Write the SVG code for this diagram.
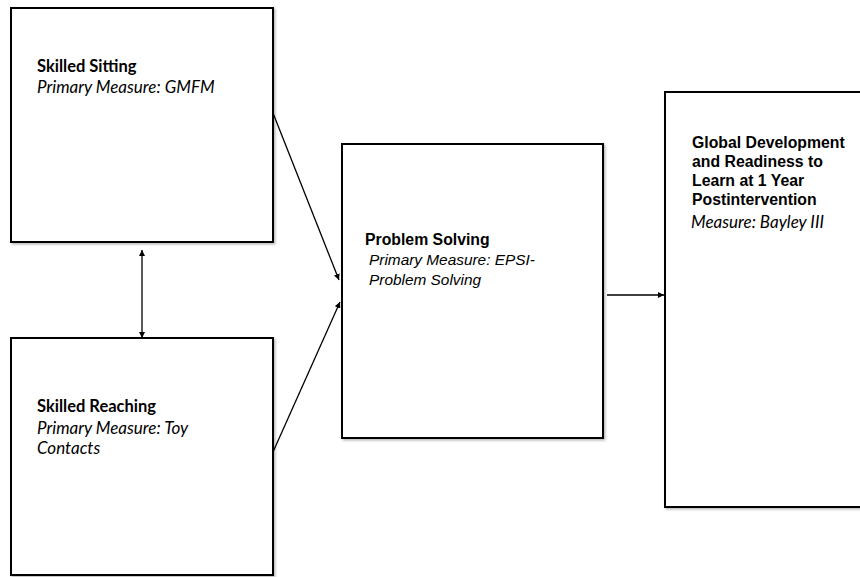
<svg xmlns="http://www.w3.org/2000/svg" width="860" height="577" viewBox="0 0 860 577">
<defs>
<marker id="ah" viewBox="0 0 10 10" refX="10" refY="5" markerWidth="6" markerHeight="6" orient="auto-start-reverse" markerUnits="userSpaceOnUse">
<path d="M0,0 L10,5 L0,10 z" fill="#000"/>
</marker>
<filter id="sh" x="-5%" y="-5%" width="110%" height="110%">
<feDropShadow dx="1.5" dy="1.5" stdDeviation="1" flood-color="#888" flood-opacity="0.6"/>
</filter>
</defs>
<style>
.box{fill:#fff;stroke:#000;stroke-width:2;filter:url(#sh)}
.cal{font-family:Lato,"Liberation Sans",sans-serif;font-size:16.5px;fill:#000}
.cal.i{font-size:17px}
.ar{font-family:"Liberation Sans",Arial,sans-serif;font-size:15.8px;fill:#000}
.ar.i{font-size:15.4px}
.b{font-weight:bold}
.i{font-style:italic}
.conn{stroke:#000;stroke-width:1.3;fill:none;marker-end:url(#ah)}
</style>
<rect width="860" height="577" fill="#fff"/>
<g id="skilled-sitting">
<rect class="box" x="11" y="8" width="262" height="234"/>
<text class="cal b" x="37" y="72">Skilled Sitting</text>
<text class="cal i" x="37" y="93">Primary Measure: GMFM</text>
</g>
<g id="skilled-reaching">
<rect class="box" x="11" y="338" width="262" height="237"/>
<text class="cal b" x="37" y="412">Skilled Reaching</text>
<text class="cal i" x="37" y="434">Primary Measure: Toy</text>
<text class="cal i" x="37" y="454">Contacts</text>
</g>
<g id="problem-solving">
<rect class="box" x="342" y="144" width="261" height="294"/>
<text class="ar b" x="365" y="245">Problem Solving</text>
<text class="ar i" x="369" y="265">Primary Measure: EPSI-</text>
<text class="ar i" x="369" y="285">Problem Solving</text>
</g>
<g id="global-development">
<rect class="box" x="665" y="92" width="205" height="415"/>
<text class="ar b" x="692" y="148">Global Development</text>
<text class="ar b" x="692" y="167">and Readiness to</text>
<text class="ar b" x="692" y="186">Learn at 1 Year</text>
<text class="ar b" x="692" y="205">Postintervention</text>
<text class="cal i" x="691" y="228">Measure: Bayley III</text>
</g>
<g id="connectors">
<line class="conn" x1="273" y1="113" x2="339" y2="280"/>
<line class="conn" x1="273" y1="452" x2="340" y2="302"/>
<line class="conn" x1="142" y1="250" x2="142" y2="338" style="marker-start:url(#ah)"/>
<line class="conn" x1="607" y1="295" x2="664" y2="295"/>
</g>
</svg>
